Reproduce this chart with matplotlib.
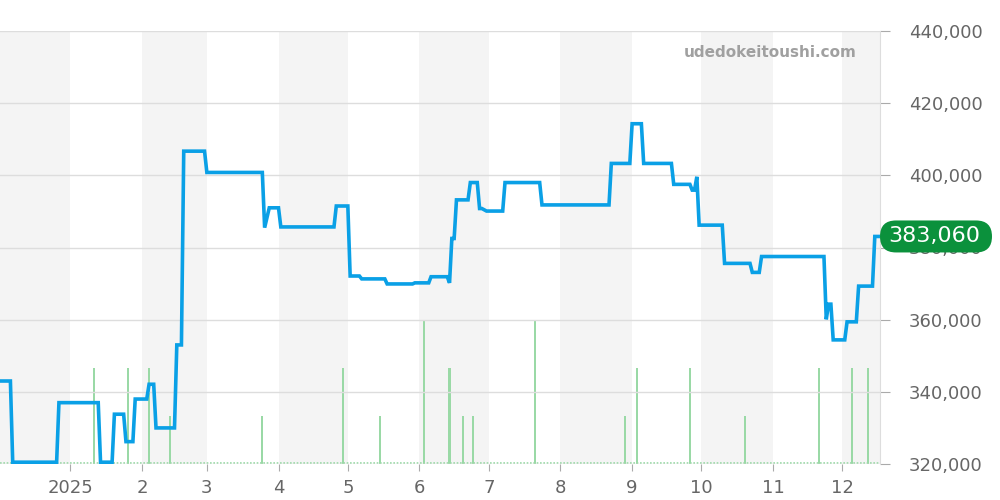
import pandas as pd
import matplotlib
matplotlib.use("Agg")
import matplotlib.pyplot as plt
from matplotlib.patches import FancyBboxPatch
from matplotlib.transforms import IdentityTransform

# price line (day offset from 2025-01-01, price in yen)
day = [-30, -26, -25, -6, -5, 12, 13, 18, 19, 23, 24, 27, 28, 33, 34, 36, 37, 45,
       46, 48, 49, 58, 59, 83, 84, 86, 90, 91, 114, 115, 120, 121, 125, 126, 136, 137,
       148, 149, 155, 156, 163, 164, 165, 166, 167, 172, 173, 176, 177, 178, 180, 187,
       188, 203, 204, 233, 234, 242, 243, 247, 248, 260, 261, 268, 269, 270, 271, 272,
       282, 283, 294, 295, 298, 299, 326, 327, 328, 329, 330, 335, 336, 340, 341, 347,
       348, 350]
price = [343000, 343000, 320500, 320500, 337000, 337000, 320500, 320500, 333800, 333800,
         326200, 326200, 338000, 338000, 342100, 342100, 330000, 330000,
         353000, 353000, 406700, 406700, 400800, 400800, 385500, 391000, 391000, 385700,
         385700, 391500, 391500, 372100, 372100, 371300, 371300, 369900,
         369900, 370200, 370200, 371900, 371900, 370200, 382500, 382500, 393200, 393200,
         398000, 398000, 390800, 390800, 390100, 390100,
         398000, 398000, 391800, 391800, 403300, 403300, 414300, 414300, 403300, 403300,
         397500, 397500, 395900, 395900, 399600, 386200,
         386200, 375600, 375600, 373100, 373100, 377500, 377500, 360100, 364300, 364300,
         354400, 354400, 359400, 359400, 369300, 369300,
         383060, 383060]

# trades per day
vol_day = [10, 25, 34, 43, 83, 118, 134, 153, 164, 170, 174, 201, 240, 245, 268, 292, 324, 338, 345]
vol = [2, 2, 2, 1, 1, 2, 1, 3, 2, 1, 1, 3, 1, 2, 2, 1, 2, 2, 2]

month_labels = ['2025', '2', '3', '4', '5', '6', '7', '8', '9', '10', '11', '12']
last_label = '383,060'

base = pd.Timestamp('2025-01-01')
dates = [base + pd.Timedelta(days=d) for d in day]
vdates = [base + pd.Timedelta(days=d) for d in vol_day]
months = pd.date_range('2024-12-01', '2026-01-01', freq='MS')

fig = plt.figure(figsize=(10, 5), dpi=100)
ax = fig.add_axes([0, 0.072, 0.88, 0.866])
x0 = pd.Timestamp('2024-12-01 12:00')
x1 = pd.Timestamp('2025-12-17 06:00')

# alternate month shading
for i in range(0, len(months) - 1, 2):
    ax.axvspan(months[i], months[i + 1], color='#f4f4f4', lw=0, zorder=0)

ax.bar(vdates, vol, width=0.9, color='#9ad9a6', zorder=2)
ax.axhline(0.03, color='#9ad9a6', lw=1.2, ls=(0, (1, 1)), zorder=2)
ax.set_ylim(0, 9)
ax.set_yticks([])
ax.set_xlim(x0, x1)
ax.set_xticks(months[1:13])
ax.set_xticklabels(month_labels)
ax.tick_params(axis='x', colors='#aaaaaa', labelcolor='#666666', labelsize=13, length=5, pad=6)
for s in ['top', 'left', 'right', 'bottom']:
    ax.spines[s].set_visible(False)

ap = ax.twinx()
ap.set_ylim(320000, 440000)
ap.set_yticks(range(320000, 440001, 20000))
ap.set_yticklabels([f'{v:,}' for v in range(320000, 440001, 20000)])
ap.tick_params(axis='y', colors='#aaaaaa', labelcolor='#666666', labelsize=13, length=7, pad=14)
ap.grid(axis='y', color='#dddddd', lw=1)
ap.set_axisbelow(True)
for s in ['top', 'left', 'bottom']:
    ap.spines[s].set_visible(False)
ap.spines['right'].set_color('#dddddd')
ap.set_xlim(x0, x1)

ap.plot(dates, price, color='#0aa0e6', lw=2.6, zorder=3, solid_joinstyle='miter')

ap.text(0.974, 0.951, 'udedokeitoushi.com', transform=ap.transAxes, ha='right', va='center',
        fontsize=11, fontweight='bold', color='#a0a0a0')

# last price badge, drawn in pixels
fig.canvas.draw()
yb = ap.transData.transform((0, price[-1]))[1]
badge = FancyBboxPatch((880, yb - 16), 112, 32,
                       boxstyle='round,pad=0,rounding_size=16',
                       transform=IdentityTransform(), facecolor='#0b913c', edgecolor='none',
                       zorder=10)
fig.patches.append(badge)
bx, by = fig.transFigure.inverted().transform((934, yb))
fig.text(bx, by, last_label, ha='center', va='center', fontsize=16, color='white', zorder=11)

fig.savefig('out.png', dpi=100)
